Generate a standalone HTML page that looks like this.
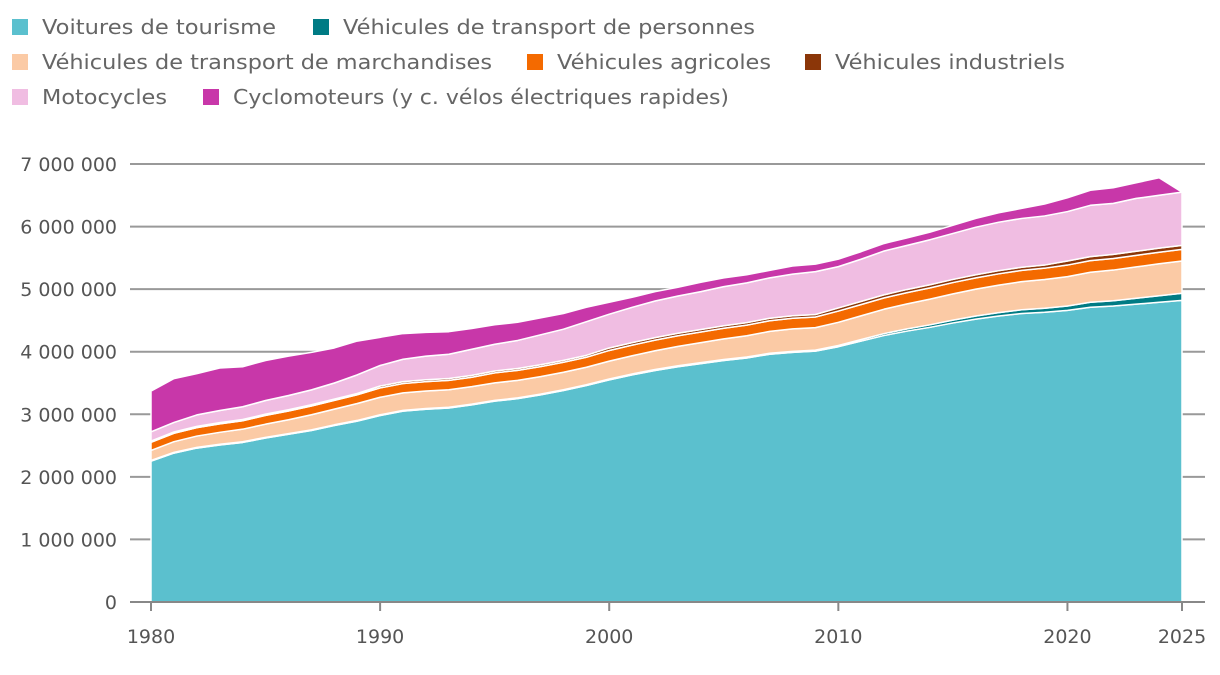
<!DOCTYPE html>
<html><head><meta charset="utf-8"><style>
body{margin:0;background:#fff}
svg{font-family:"DejaVu Sans","Liberation Sans",sans-serif}
</style></head><body>
<svg id="chart" width="1220" height="670">
<g id="legend"></g>
<g id="grid"></g>
<g id="areas"></g>
<g id="axes"></g>
</svg>
<script>
const years=[];for(let y=1980;y<=2025;y++)years.push(y);
const cars=[2.25,2.38,2.46,2.51,2.55,2.62,2.68,2.74,2.82,2.89,2.98,3.05,3.08,3.10,3.15,3.21,3.25,3.31,3.38,3.46,3.55,3.63,3.70,3.76,3.81,3.86,3.90,3.96,3.99,4.01,4.08,4.17,4.26,4.33,4.39,4.46,4.52,4.57,4.61,4.63,4.66,4.71,4.73,4.76,4.79,4.82];
const buses=[.012,.012,.012,.012,.012,.012,.012,.012,.012,.012,.012,.012,.012,.012,.012,.012,.012,.012,.012,.012,.015,.015,.015,.015,.015,.015,.015,.015,.015,.015,.02,.025,.03,.035,.04,.045,.05,.055,.06,.065,.07,.08,.085,.095,.105,.115];
const goods=[.16,.17,.18,.19,.2,.21,.22,.24,.25,.27,.28,.28,.28,.28,.28,.28,.28,.28,.28,.28,.285,.29,.30,.31,.32,.33,.34,.35,.36,.36,.37,.38,.39,.40,.41,.42,.43,.44,.45,.46,.47,.48,.49,.50,.51,.515];
const agri=[.13,.135,.135,.135,.135,.14,.14,.14,.14,.14,.15,.15,.15,.15,.15,.16,.16,.16,.16,.16,.17,.17,.17,.17,.17,.17,.17,.17,.17,.17,.18,.18,.18,.18,.18,.18,.18,.18,.18,.18,.185,.185,.185,.185,.185,.185];
const indus=[.02,.02,.02,.02,.02,.02,.02,.02,.02,.02,.03,.03,.03,.03,.03,.03,.03,.03,.03,.03,.04,.04,.04,.04,.04,.04,.04,.04,.04,.04,.05,.05,.05,.05,.05,.05,.05,.05,.05,.05,.065,.065,.065,.065,.065,.065];
const moto=[.148,.153,.183,.193,.203,.218,.228,.238,.258,.298,.328,.358,.378,.388,.418,.428,.448,.478,.498,.538,.54,.565,.585,.595,.605,.625,.635,.645,.665,.685,.66,.675,.70,.705,.72,.735,.76,.775,.78,.785,.79,.82,.815,.845,.845,.85];
const cyclo=[.65,.70,.66,.68,.64,.64,.63,.60,.56,.54,.45,.41,.38,.36,.33,.31,.29,.27,.25,.23,.19,.16,.15,.14,.15,.14,.13,.12,.13,.12,.12,.12,.12,.12,.12,.13,.14,.15,.16,.19,.22,.24,.25,.25,.28,0];
const seriesNames=["Voitures de tourisme","Véhicules de transport de personnes","Véhicules de transport de marchandises","Véhicules agricoles","Véhicules industriels","Motocycles","Cyclomoteurs (y c. vélos électriques rapides)"];
const colors=["#5bc0ce","#007b84","#fbcaa5","#f46a00","#8b3608","#f0bde2","#c837a9"];
const yTicks=[0,1,2,3,4,5,6,7];
const yTickLabels=["0","1 000 000","2 000 000","3 000 000","4 000 000","5 000 000","6 000 000","7 000 000"];
const xTicks=[1980,1990,2000,2010,2020,2025];
const NS="http://www.w3.org/2000/svg";
const X=y=>151+(y-1980)*(1182-151)/45;
const Y=v=>602-v*(602-164)/7;
function mk(t,a,p){const e=document.createElementNS(NS,t);for(const k in a)e.setAttribute(k,a[k]);p.appendChild(e);return e;}
const grid=document.getElementById('grid'),areas=document.getElementById('areas'),axes=document.getElementById('axes'),legend=document.getElementById('legend');
yTicks.forEach((v,i)=>{
 if(v>0){const l=mk('line',{x1:130,x2:1205,y1:Y(v),y2:Y(v),stroke:'#999','stroke-width':2},grid);
 
 }
 const t=mk('text',{x:117,y:Y(v)+7,'text-anchor':'end','font-size':19,fill:'#555'},axes);t.textContent=yTickLabels[i];
 
 
});
const data=[cars,buses,goods,agri,indus,moto,cyclo];
let base=years.map(()=>0);
data.forEach((s,k)=>{
 const top=base.map((b,i)=>b+s[i]);
 let d='M'+years.map((y,i)=>X(y)+','+Y(top[i])).join('L');
 for(let i=years.length-1;i>=0;i--)d+='L'+X(years[i])+','+Y(base[i]);
 d+='Z';
 const p=mk('path',{d:d,fill:colors[k],stroke:'#fff','stroke-width':1.5,'stroke-linejoin':'round'},areas);
 
 
 base=top;
});
const ax=mk('line',{x1:130,x2:1205,y1:602,y2:602,stroke:'#888','stroke-width':2},axes);


xTicks.forEach(y=>{
 const tk=mk('line',{x1:X(y),x2:X(y),y1:602,y2:611,stroke:'#888','stroke-width':2},axes);
 
 
 const t=mk('text',{x:X(y),y:643,'text-anchor':'middle','font-size':19,fill:'#555'},axes);t.textContent=y;
 
 
});
const lpos=[[12,20],[313,20],[12,55],[527,55],[805,55],[12,90],[203,90]];
const lw=[234,412,450,214,230,125,496];
seriesNames.forEach((n,k)=>{
 const g=mk('g',{},legend);
 
 
 mk('rect',{x:lpos[k][0],y:lpos[k][1]-1,width:16,height:16,fill:colors[k]},g);
 const t=mk('text',{x:lpos[k][0]+30,y:lpos[k][1]+14,'font-size':20,fill:'#666',textLength:lw[k],lengthAdjust:'spacingAndGlyphs'},g);t.textContent=n;
});
</script>
</body></html>
